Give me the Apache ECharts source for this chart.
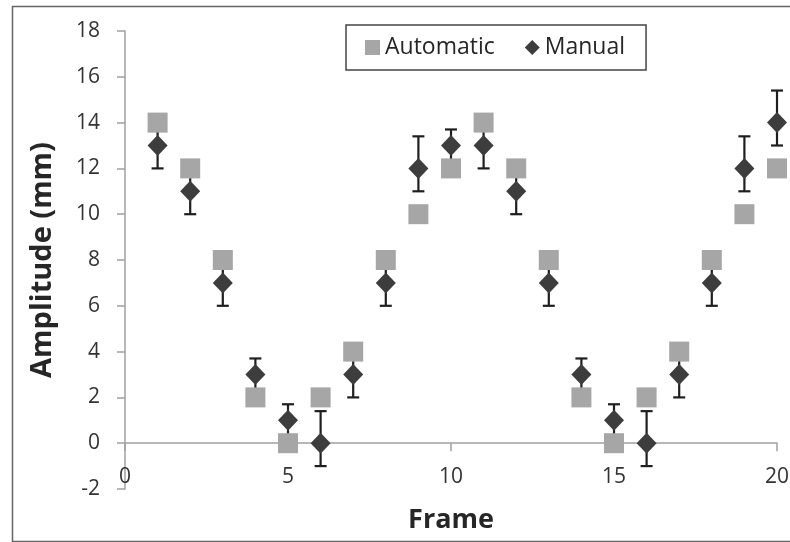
<!DOCTYPE html>
<html>
<head>
<meta charset="utf-8">
<script src="https://cdn.jsdelivr.net/npm/echarts@6/dist/echarts.min.js"></script>
<style>html,body{margin:0;padding:0;background:#fff}#c{width:790px;height:542px}</style>
</head>
<body>
<div id="c"></div>
<script>
const frames = [1,2,3,4,5,6,7,8,9,10,11,12,13,14,15,16,17,18,19,20];
const automatic = [14,12,8,2,0,2,4,8,10,12,14,12,8,2,0,2,4,8,10,12];
const manual = [13,11,7,3,1,0,3,7,12,13,13,11,7,3,1,0,3,7,12,14];
const manualLow = [12,10,6,2.3,0.3,-1,2,6,11,12.3,12,10,6,2.3,0.3,-1,2,6,11,13];
const manualHigh = [14,12,8,3.7,1.7,1.4,4,8,13.4,13.7,14,12,8,3.7,1.7,1.4,4,8,13.4,15.4];
const xTicks = [0,5,10,15,20];
const yTicks = [-2,0,2,4,6,8,10,12,14,16,18];

const FONT = '"Open Sans"';
const chart = echarts.init(document.getElementById('c'), null, {renderer:'canvas'});
const errData = frames.map((f,i)=>[f, manualLow[i], manualHigh[i]]);
chart.setOption({
  animation:false,
  backgroundColor:'#fff',
  graphic:[{type:'rect', shape:{x:12.5,y:6.5,width:800,height:535}, style:{fill:'none', stroke:'#666', lineWidth:1.5}, z:-1}],
  grid:{left:125, right:13, top:31, bottom:53, outerBoundsMode:'none', containLabel:false},
  legend:{
    left:346, top:25, orient:'horizontal',
    borderColor:'#444', borderWidth:1.5, padding:[11,21,11,19],
    itemWidth:15, itemHeight:15, itemGap:30,
    textStyle:{fontFamily:FONT, fontSize:23, color:'#262626'},
    data:[{name:'Automatic', icon:'rect'},{name:'Manual', icon:'diamond'}]
  },
  xAxis:{
    type:'value', min:xTicks[0], max:xTicks[xTicks.length-1], interval:5,
    name:'Frame', nameLocation:'middle', nameGap:18,
    nameTextStyle:{fontFamily:FONT, fontSize:27, fontWeight:'bold', color:'#262626'},
    axisLine:{onZero:true, lineStyle:{color:'#a0a0a0', width:1.5}},
    axisTick:{show:true, length:8, lineStyle:{color:'#a0a0a0', width:1.5}},
    axisLabel:{margin:-22, fontFamily:FONT, fontSize:21, color:'#333'},
    splitLine:{show:false}
  },
  yAxis:{
    type:'value', min:yTicks[0], max:yTicks[yTicks.length-1], interval:2,
    name:'Amplitude (mm)', nameLocation:'middle', nameGap:68,
    nameTextStyle:{fontFamily:FONT, fontSize:29, fontWeight:'bold', color:'#262626'},
    axisLine:{show:true, onZero:false, lineStyle:{color:'#a0a0a0', width:1.5}},
    axisTick:{show:true, length:8, lineStyle:{color:'#a0a0a0', width:1.5}},
    axisLabel:{margin:25, fontFamily:FONT, fontSize:21, color:'#333'},
    splitLine:{show:false}
  },
  series:[
    {
      type:'custom', name:'err', z:1, silent:true,
      data:errData,
      renderItem:function(params, api){
        const x = api.value(0), lo = api.value(1), hi = api.value(2);
        const pLo = api.coord([x, lo]), pHi = api.coord([x, hi]);
        const hw = 6;
        const st = {stroke:'#1e1e1e', lineWidth:2.2, fill:'none'};
        return {type:'group', children:[
          {type:'line', shape:{x1:pLo[0], y1:pLo[1], x2:pHi[0], y2:pHi[1]}, style:st},
          {type:'line', shape:{x1:pLo[0]-hw, y1:pLo[1], x2:pLo[0]+hw, y2:pLo[1]}, style:st},
          {type:'line', shape:{x1:pHi[0]-hw, y1:pHi[1], x2:pHi[0]+hw, y2:pHi[1]}, style:st}
        ]};
      }
    },
    {
      type:'scatter', name:'Automatic', z:3,
      symbol:'rect', symbolSize:20,
      itemStyle:{color:'#a6a6a6', opacity:1},
      data:frames.map((f,i)=>[f, automatic[i]])
    },
    {
      type:'scatter', name:'Manual', z:4,
      symbol:'diamond', symbolSize:[20,21],
      itemStyle:{color:'#3d3d3d', opacity:1},
      data:frames.map((f,i)=>[f, manual[i]])
    }
  ]
});
</script>
</body>
</html>
